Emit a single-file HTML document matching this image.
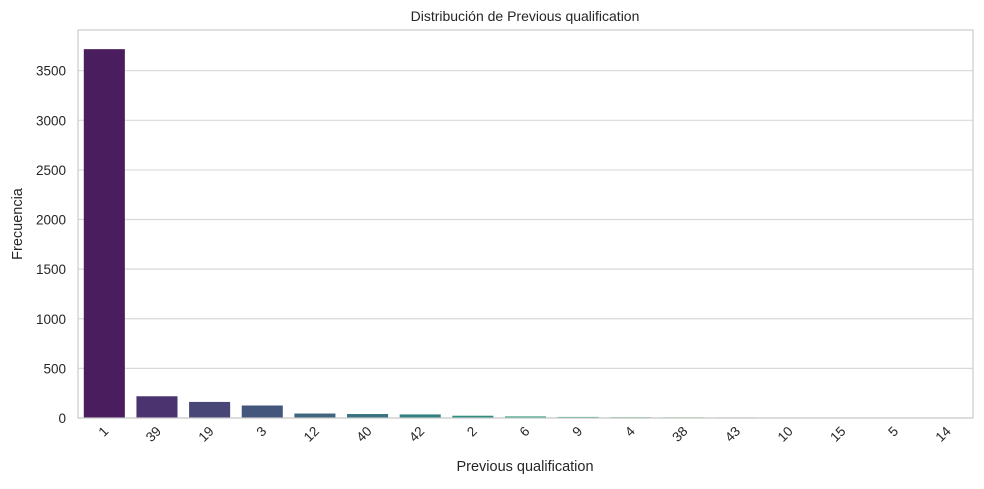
<!DOCTYPE html>
<html><head><meta charset="utf-8"><style>
body{margin:0;background:#fff;font-family:"Liberation Sans",Arial,sans-serif;}
</style></head><body>
<svg id="c" width="984" height="484" xmlns="http://www.w3.org/2000/svg" style="font-family:'Liberation Sans',Arial,sans-serif">
<text x="525" y="21" text-anchor="middle" font-size="14" fill="#262626">Distribución de Previous qualification</text>
<text x="525" y="471" text-anchor="middle" font-size="14.5" fill="#262626">Previous qualification</text>
<text transform="translate(22,224) rotate(-90)" text-anchor="middle" font-size="14.5" fill="#262626">Frecuencia</text>
<g id="grid"></g><g id="bars"></g><g id="ticks"></g>
<rect x="78" y="30" width="895" height="388" fill="none" stroke="#cccccc" stroke-width="1.2"/>
</svg>
<script>
const categories=["1","39","19","3","12","40","42","2","6","9","4","38","43","10","15","5","14"];
const values=[3717,219,162,126,45,40,36,23,16,11,8,7,6,4,2,1,1];
const yTicks=[0,500,1000,1500,2000,2500,3000,3500];
const colors=["#4a1d5e","#4a336e","#484677","#44567c","#3f657f","#397380","#348081","#308d80","#2f9a7d","#35a777","#44b36e","#5abe63","#74c857","#93d04b","#b3d63f","#d4db3b","#e6dc46"];
const L=78,R=973,T=30,B=418,yMax=3910;
const y=v=>B-(v/yMax)*(B-T);
const step=(R-L)/categories.length;
const x=i=>L+step*(i+0.5);
const ns="http://www.w3.org/2000/svg";
const g=document.getElementById('grid'),bg=document.getElementById('bars'),tg=document.getElementById('ticks');
function mk(t,a){const e=document.createElementNS(ns,t);for(const k in a)e.setAttribute(k,a[k]);return e;}
yTicks.forEach(v=>{
 const l=mk('line',{x1:L,x2:R,y1:y(v),y2:y(v),stroke:'#d9d9d9','stroke-width':1.2});
 
 
 g.appendChild(l);
 const t=mk('text',{x:L-12,y:y(v)+5,'text-anchor':'end','font-size':13.5,fill:'#262626'});
 t.textContent=v;
 
 
 tg.appendChild(t);
});
categories.forEach((c,i)=>{
 const w=step*0.78;
 const r=mk('rect',{x:x(i)-w/2,y:y(values[i]),width:w,height:B-y(values[i]),fill:colors[i]});
 
 
 bg.appendChild(r);
 const t=mk('text',{transform:`translate(${x(i)+5},${B+14}) rotate(-45)`,'text-anchor':'end','font-size':13.5,fill:'#262626'});
 t.textContent=c;
 
 
 tg.appendChild(t);
});
</script>
</body></html>
